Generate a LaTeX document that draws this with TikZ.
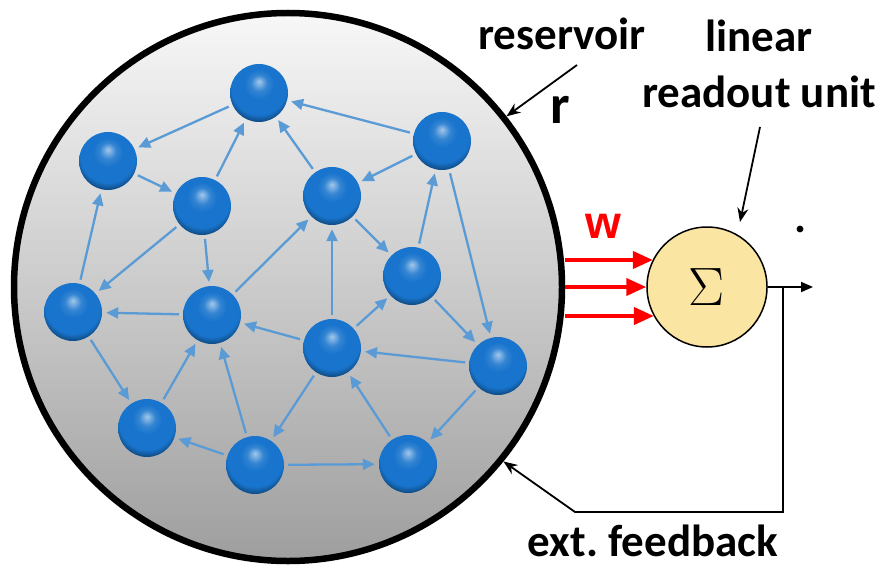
\RequirePackage{fix-cm}
\documentclass[tikz,border=0pt]{standalone}
\usepackage{fontspec}
\setmainfont{Carlito}
\newfontfamily\wfont{Liberation Sans}
\usetikzlibrary{arrows.meta}

\definecolor{ballblue}{RGB}{24,116,204}
\definecolor{linkblue}{RGB}{91,155,213}
\definecolor{sumfill}{RGB}{251,229,162}

% glossy unit: light spot near the top, darker rim below
\pgfdeclareradialshading{unit}{\pgfpoint{0bp}{10bp}}{%
  color(0bp)=(ballblue!40!white);
  color(7bp)=(ballblue!88!white);
  color(13bp)=(ballblue);
  color(24bp)=(ballblue);
  color(31bp)=(ballblue!50!black);
  color(50bp)=(ballblue!50!black)}

\begin{document}
\begin{tikzpicture}[x=1pt,y=-1pt,
  nd/.style={circle,shading=unit,minimum size=58pt,inner sep=0pt},
  ln/.style={draw=linkblue,line width=2.3pt,shorten >=4pt,shorten <=4pt,-{Triangle[length=12pt,width=11pt]}},
  wa/.style={draw=red,line width=4pt,-{Triangle[length=20pt,width=17pt]}},
  ptr/.style={line width=1.8pt,-{Stealth[length=14pt,width=11pt]}},
  lbl/.style={anchor=base,inner sep=0pt,font=\fontsize{45}{54}\selectfont\bfseries}]
\useasboundingbox (0,0) rectangle (885,567);

% reservoir disc
\node[circle,draw,line width=6.5pt,minimum size=548pt,inner sep=0pt,
  top color=black!3,bottom color=black!38] (res) at (288,287) {};

% reservoir units
\node[nd] (n1) at (259,93) {};
\node[nd] (n2) at (442,141) {};
\node[nd] (n3) at (108,161) {};
\node[nd] (n4) at (202,206) {};
\node[nd] (n5) at (332,196) {};
\node[nd] (n6) at (412,276) {};
\node[nd] (n7) at (73,312) {};
\node[nd] (n8) at (212,315) {};
\node[nd] (n9) at (332,348) {};
\node[nd] (n10) at (498,366) {};
\node[nd] (n11) at (147,428) {};
\node[nd] (n12) at (255,465) {};
\node[nd] (n13) at (408,464) {};

% recurrent links
\draw[ln] (n2)--(n1);
\draw[ln] (n5)--(n1);
\draw[ln] (n4)--(n1);
\draw[ln] (n1)--(n3);
\draw[ln] (n3)--(n4);
\draw[ln] (n7)--(n3);
\draw[ln] (n4)--(n7);
\draw[ln] (n4)--(n8);
\draw[ln] (n8)--(n5);
\draw[ln] (n2)--(n5);
\draw[ln] (n5)--(n6);
\draw[ln] (n9)--(n5);
\draw[ln] (n6)--(n2);
\draw[ln] (n2)--(n10);
\draw[ln] (n9)--(n6);
\draw[ln] (n6)--(n10);
\draw[ln] (n8)--(n7);
\draw[ln] (n7)--(n11);
\draw[ln] (n11)--(n8);
\draw[ln] (n9)--(n8);
\draw[ln] (n12)--(n8);
\draw[ln] (n12)--(n11);
\draw[ln] (n9)--(n12);
\draw[ln] (n12)--(n13);
\draw[ln] (n13)--(n9);
\draw[ln] (n10)--(n9);
\draw[ln] (n10)--(n13);

% readout
\node[circle,draw,line width=1.5pt,fill=sumfill,minimum size=120pt,inner sep=0pt,
  font=\fontsize{54}{54}\selectfont] (sum) at (707,287) {$\Sigma$};
\coordinate (w1) at (565,260);
\coordinate (w2) at (565,287);
\coordinate (w3) at (565,316);
\draw[wa] (w1)--(w1 -| sum.153);
\draw[wa] (w2)--(sum.west);
\draw[wa] (w3)--(w3 -| sum.209);
\node[anchor=base,inner sep=0pt,text=red,font=\wfont\fontsize{46}{46}\selectfont\bfseries] (lw) at (603,238) {w};

% output and feedback loop
\coordinate (out) at (813,287);
\coordinate (fb) at (783,287);
\coordinate (fbc) at (575,512);
\draw[line width=1.8pt,-{Triangle[length=12pt,width=10pt]}] (sum.east)--(out);
\draw[ptr] (fb)|-(fbc)--(res.-39);

% labels
\node[lbl] (lres) at (562,50) {reservoir};
\coordinate (pr) at (577,65);
\draw[ptr] (pr)--(res.38);
\node[lbl,font=\fontsize{55}{55}\selectfont\bfseries] (lr) at (560,124) {r};
\node[lbl] (llin) at (759,52) {linear};
\node[lbl] (lro) at (759,107) {readout unit};
\coordinate (pl) at (760,127);
\coordinate (pl2) at (740,222);
\draw[ptr] (pl)--(pl2);
\node[lbl] (ldot) at (800,232) {.};
\node[lbl] (lfb) at (653,556) {ext.\ feedback};
\end{tikzpicture}
\end{document}
